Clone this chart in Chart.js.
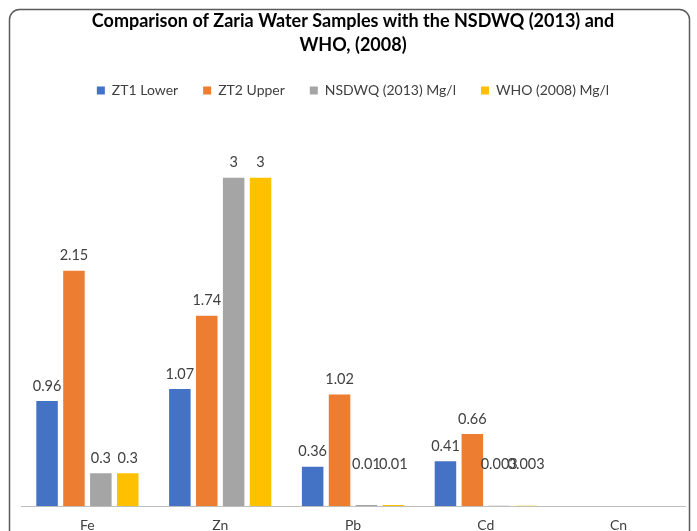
<!DOCTYPE html>
<html>
<head>
<meta charset="utf-8">
<script src="https://cdn.jsdelivr.net/npm/chart.js@4/dist/chart.umd.min.js"></script>
<style>
  html, body { margin: 0; padding: 0; background: #fff; overflow: hidden; }
  #wrap { width: 697px; height: 531px; overflow: hidden; }
  canvas { display: block; }
</style>
</head>
<body>
<div id="wrap"><canvas id="myChart" width="697" height="551"></canvas></div>
<script>
// --------------------------------------------------
const categories = ["Fe", "Zn", "Pb", "Cd", "Cn"];
const zt1Lower = [0.96, 1.07, 0.36, 0.41, null];
const zt2Upper = [2.15, 1.74, 1.02, 0.66, null];
const nsdwq = [0.3, 3, 0.01, 0.003, null];
const who = [0.3, 3, 0.01, 0.003, null];

const FONT = "Lato, 'Open Sans', sans-serif";

// rounded frame round the chart
const frame = {
  id: "frame",
  beforeDraw(chart) {
    const c = chart.ctx;
    c.save();
    c.fillStyle = "#fff";
    c.fillRect(0, 0, chart.width, chart.height);
    c.strokeStyle = "#5a5a5a";
    c.lineWidth = 1.5;
    c.beginPath();
    c.roundRect(9.5, 9.5, 680, 580, 10);
    c.stroke();
    c.restore();
  },
};

// value labels above bars
const valueLabels = {
  id: "valueLabels",
  afterDatasetsDraw(chart) {
    const c = chart.ctx;
    const base = chart.scales.y.getPixelForValue(0);
    c.save();
    c.font = "14.5px " + FONT;
    c.fillStyle = "#404040";
    c.textAlign = "center";
    c.textBaseline = "middle";
    chart.data.datasets.forEach((ds, i) => {
      chart.getDatasetMeta(i).data.forEach((bar, j) => {
        const v = ds.data[j];
        if (v === null || v === undefined) return;
        const y = Math.min(bar.y - 15, base - 42);
        c.fillText(String(v), bar.x, y);
      });
    });
    c.restore();
  },
};

var ctx = document.getElementById("myChart").getContext("2d");
var myChart = new Chart(ctx, {
  type: "bar",
  data: {
    labels: categories,
    datasets: [
      { label: "ZT1 Lower", data: zt1Lower, backgroundColor: "#4472C4" },
      { label: "ZT2 Upper", data: zt2Upper, backgroundColor: "#ED7D31" },
      { label: "NSDWQ (2013) Mg/l", data: nsdwq, backgroundColor: "#A5A5A5" },
      { label: "WHO (2008) Mg/l", data: who, backgroundColor: "#FFC000" },
    ],
  },
  options: {
    responsive: false,
    animation: false,
    categoryPercentage: 0.81,
    barPercentage: 0.8,
    layout: { padding: { left: 21, right: 12, top: 0, bottom: 6 } },
    plugins: {
      title: {
        display: true,
        text: ["Comparison of Zaria Water Samples with the NSDWQ (2013) and", "WHO, (2008)"],
        color: "#000",
        font: { family: FONT, size: 18, weight: "bold", lineHeight: 1.35 },
        padding: { top: 9, bottom: 1 },
      },
      legend: {
        display: true,
        labels: {
          color: "#404040",
          font: { family: FONT, size: 14 },
          boxWidth: 8,
          boxHeight: 8,
          padding: 25,
        },
      },
      tooltip: { enabled: false },
    },
    scales: {
      y: {
        display: false,
        min: 0,
        max: 3.64,
      },
      x: {
        grid: { display: false, drawTicks: false },
        border: { display: true, color: "#bfbfbf", width: 1 },
        ticks: {
          color: "#404040",
          font: { family: FONT, size: 14 },
          padding: 11,
        },
      },
    },
  },
  plugins: [frame, valueLabels],
});
</script>
</body>
</html>
